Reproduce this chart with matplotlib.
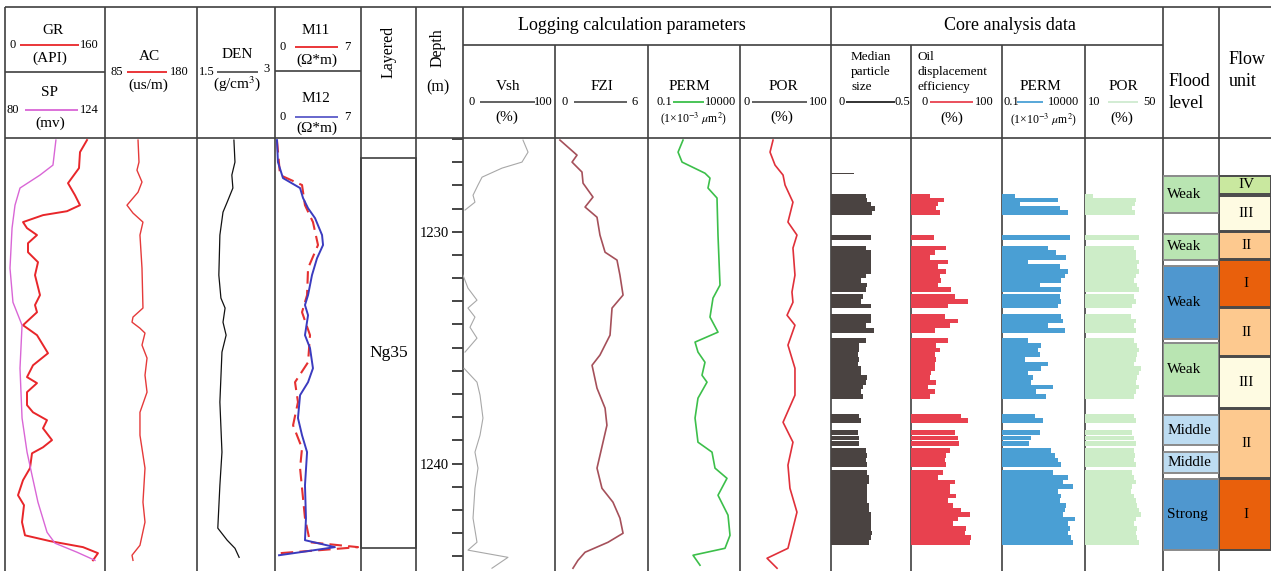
#Well log panel: conventional logs, calculated parameters, core data, flood level and flow units
import numpy as np
import matplotlib.pyplot as plt
from matplotlib.patches import Rectangle
from matplotlib.ticker import FixedLocator, MultipleLocator

plt.rcParams['font.family'] = ['Liberation Serif', 'DejaVu Serif']
plt.rcParams['mathtext.fontset'] = 'stix'

nan = np.nan

#Conventional logs (depth in m)
gr_depth = [1226.04, 1226.56, 1227.25, 1227.90, 1228.42, 1228.85, 1229.11, 1229.28, 1229.58, 1229.84,
            1230.14, 1230.49, 1230.88, 1231.31, 1231.87, 1232.73, 1233.16, 1233.47, 1234.03, 1234.46,
            1235.24, 1235.76, 1236.27, 1236.53, 1236.92, 1237.48, 1237.79, 1238.13, 1238.48, 1238.99,
            1239.30, 1239.56, 1240.20, 1240.72, 1241.37, 1241.80, 1242.53, 1243.10, 1243.35, 1243.61,
            1243.87, 1244.18]
gr = [131.2, 120, 118.4, 100.8, 112, 120, 99.2, 60.8, 28.8, 35.2,
      51.2, 36.8, 36.8, 52.8, 48, 56, 48, 51.2, 28.8, 51.2,
      68.8, 44.8, 35.2, 51.2, 35.2, 35.2, 44.8, 67.2, 60.8, 75.2,
      60.8, 43.2, 40, 28.8, 20.8, 30.4, 27.2, 32, 72, 124.8,
      148.8, 140.8]

sp_depth = [1226.04, 1227.12, 1227.55, 1228.11, 1228.85, 1229.84, 1231.57, 1233.04, 1234.03,
            1235.89, 1238.04, 1239.51, 1240.51, 1241.67, 1242.97, 1243.44, 1243.83, 1244.18]
sp = [102.4, 101.1, 95.4, 86.6, 84.4, 83.1, 82.2, 83.5, 87.5,
      86.6, 87.5, 89.7, 91.9, 94.5, 98.5, 102.0, 111.7, 119.6]

ac_depth = [1226.04, 1226.99, 1227.34, 1227.85, 1228.29, 1228.85, 1229.19, 1229.58, 1230.14,
            1231.57, 1233.29, 1233.68, 1233.90, 1234.16, 1234.37, 1234.89, 1235.45, 1236.19,
            1236.92, 1237.79, 1238.78, 1240.20, 1241.67, 1242.53, 1243.53, 1243.96, 1244.18]
ac = [119.1, 120.1, 118.0, 123.2, 119.1, 107.7, 113.9, 124.2, 121.1,
      123.2, 124.2, 113.9, 112.9, 121.1, 126.3, 123.2, 128.4, 126.3,
      128.4, 121.1, 121.1, 126.3, 124.2, 126.3, 121.1, 112.9, 113.9]

den_depth = [1226.04, 1226.99, 1227.55, 1228.11, 1228.72, 1229.15, 1230.14, 1231.87, 1232.86, 1233.29,
             1233.90, 1234.46, 1235.19, 1237.35, 1239.51, 1240.94, 1242.79, 1243.31, 1243.66, 1244.05]
den = [2.21, 2.23, 2.17, 2.19, 2.08, 2.00, 1.94, 1.92, 1.96, 2.04,
       2.00, 2.06, 1.98, 1.94, 1.98, 1.94, 1.90, 2.08, 2.23, 2.31]

m12_depth = [1226.04, 1226.99, 1227.68, 1228.11, 1228.54, 1228.98, 1229.41, 1230.14, 1230.57, 1231.14,
             1231.87, 1232.73, 1233.16, 1233.60, 1234.46, 1235.02, 1235.89, 1236.49, 1237.05, 1238.04,
             1238.78, 1239.51, 1240.94, 1242.36, 1243.31, 1243.61, 1243.83, 1243.96]
m12 = [0.16, 0.24, 0.65, 2.04, 2.28, 2.69, 3.26, 3.83, 3.91, 3.42,
       3.01, 2.69, 2.44, 2.69, 2.44, 2.85, 3.09, 2.69, 2.04, 1.87,
       2.20, 2.61, 2.44, 2.52, 2.44, 4.88, 2.04, 0.33]

m11_depth = [1226.04, 1227.55, 1227.98, 1228.85, 1229.58, 1230.57, 1231.57, 1232.73, 1233.47, 1234.46,
             1235.63, 1236.49, 1237.35, 1238.35, 1239.34, 1240.20, 1242.36, 1243.40, 1243.61, 1243.74,
             1243.87]
m11 = [0.16, 0.41, 2.20, 2.44, 3.09, 3.50, 2.69, 2.61, 2.20, 2.85,
       2.69, 1.63, 1.87, 1.47, 2.20, 2.04, 2.44, 2.85, 6.76, 3.66,
       0.41]

#Logging calculation parameters
vsh_depth = [1226.04, 1226.56, 1226.99, 1227.25, 1227.64, 1227.98, 1228.42, 1228.72, 1229.06, 1229.50,
             1231.87, 1232.43, 1232.95, 1233.29, 1233.68, 1234.12, 1234.59, 1235.19, 1235.50,
             1235.89, 1236.49, 1237.05, 1238.04, 1238.78, 1239.51, 1240.20, 1241.07, 1242.36, 1243.40,
             1243.74, 1244.05, 1244.52]
vsh = [65.2, 70.7, 64.1, 42.4, 20.7, 16.3, 10.9, 13.0, 2.2, nan,
       0.0, 5.4, 15.2, 5.4, 13.0, 7.6, 15.2, 2.2, nan,
       1.1, 15.2, 18.5, 21.7, 18.5, 13.0, 16.3, 13.0, 10.9, 15.2,
       5.4, 48.9, 31.5]

fzi_depth = [1226.04, 1226.69, 1226.99, 1227.42, 1227.90, 1228.50, 1228.93, 1229.37, 1230.14, 1230.88,
             1231.22, 1231.87, 1232.73, 1233.29, 1234.46, 1235.32, 1235.76, 1236.75, 1237.61, 1238.35,
             1240.20, 1241.07, 1241.67, 1242.36, 1243.01, 1243.40, 1243.83, 1244.18, 1244.52]
fzi = [0.32, 1.42, 1.10, 1.74, 1.81, 2.45, 1.94, 2.71, 2.90, 3.23,
       4.00, 4.19, 4.39, 3.68, 3.55, 2.90, 2.39, 2.71, 3.23, 3.35,
       2.71, 3.03, 3.74, 4.19, 4.39, 3.42, 1.94, 1.48, 1.16]

perm_depth = [1226.04, 1226.56, 1226.99, 1227.47, 1227.68, 1228.11, 1228.54, 1230.14, 1232.30, 1232.86,
              1233.68, 1234.33, 1234.76, 1235.19, 1235.63, 1236.19, 1236.49, 1237.18, 1238.04, 1239.08,
              1239.51, 1240.20, 1240.64, 1241.37, 1242.23, 1243.10, 1243.66, 1243.96, 1244.39]
perm = [8.0, 4.3, 7.1, 125, 234, 182, 562, 637, 818, 341,
        234, 637, 36, 52, 125, 86, 161, 52, 36, 52,
        301, 438, 1960, 637, 2230, 2860, 1530, 28, 67]

por_depth = [1226.04, 1226.56, 1227.12, 1227.55, 1227.98, 1228.72, 1229.58, 1230.14, 1230.70, 1231.87,
             1232.60, 1233.04, 1233.60, 1234.03, 1234.89, 1235.89, 1237.05, 1238.22, 1239.08, 1240.07,
             1241.07, 1242.10, 1243.66, 1244.09, 1244.52]
por = [36.3, 33.0, 38.5, 47.3, 49.5, 58.2, 52.7, 62.6, 58.2, 60.4,
       57.1, 58.2, 51.7, 60.4, 52.7, 60.4, 60.4, 47.3, 58.2, 52.7,
       54.9, 62.6, 52.7, 29.7, 40.7]

#Core analysis data
core_depth = [1228.45, 1228.62, 1228.80, 1228.98, 1229.16,
              1230.25,
              1230.70, 1230.90, 1231.10, 1231.30, 1231.50, 1231.70, 1231.90, 1232.10, 1232.30, 1232.50,
              1232.80, 1233.00, 1233.20,
              1233.65, 1233.85, 1234.05, 1234.25,
              1234.70, 1234.90, 1235.10, 1235.30, 1235.50, 1235.70, 1235.90, 1236.10, 1236.30, 1236.50,
              1236.70, 1236.90, 1237.10,
              1237.97, 1238.15,
              1238.65, 1238.90, 1239.15,
              1239.45, 1239.65, 1239.85, 1240.05,
              1240.40, 1240.60, 1240.80, 1241.00, 1241.20, 1241.40, 1241.60, 1241.80, 1242.00, 1242.20,
              1242.40, 1242.60, 1242.80, 1243.00, 1243.20, 1243.40]
core_median = [0.22, 0.23, 0.25, 0.28, 0.26,
               0.25,
               0.22, 0.25, 0.25, 0.25, 0.25, 0.25, 0.22, 0.19, 0.23, 0.22,
               0.20, 0.19, 0.25,
               0.25, 0.25, 0.22, 0.27,
               0.22, 0.18, 0.18, 0.17, 0.18, 0.17, 0.19, 0.19, 0.23, 0.22, 0.20, 0.19, 0.20,
               0.18, 0.19,
               0.17, 0.18, 0.18,
               0.22, 0.23, 0.22, 0.23,
               0.23, 0.24, 0.24, 0.23, 0.23, 0.23, 0.23, 0.24, 0.24, 0.25, 0.25, 0.25, 0.25, 0.26, 0.25, 0.24]
core_oil = [21, 36, 30, 28, 32,
            25,
            38, 26, 21, 41, 30, 38, 32, 33, 30, 44,
            48, 63, 41,
            37, 52, 43, 26,
            41, 27, 32, 26, 27, 26, 26, 22, 21, 27, 19, 26, 21,
            55, 63,
            48, 52, 53,
            43, 38, 37, 38,
            35, 30, 48, 43, 43, 49, 41, 46, 55, 65, 52, 46, 60, 59, 66, 65]
core_perm = [0.6, 230, 1.2, 320, 950,
             1260,
             59, 178, 724, 3.7, 309, 955, 631, 355, 19.5, 355,
             309, 355, 234,
             355, 468, 59, 631,
             3.7, 22, 15, 19.5, 2.5, 59, 22, 3.7, 7.4, 5.6, 117, 11, 45,
             9.8, 30,
             19.5, 5.6, 4.3,
             89, 155, 234, 355,
             117, 955, 468, 1900, 234, 355, 309, 724, 631, 468, 2500, 955, 1260, 955, 1450, 1900]
core_por = [14, 36, 35.5, 34, 35.5,
            37.5,
            35, 36, 36, 37.5, 36.5, 37.5, 36, 35, 36.5, 37.5,
            35, 36, 34,
            33.5, 36, 35, 36,
            35, 36.5, 37.5, 36.5, 36, 35, 38.5, 37.5, 36.5, 36, 37.5, 36, 35,
            35, 36,
            34, 35, 36,
            35, 35.5, 35, 36,
            34, 35, 36, 34, 33.5, 35, 36, 36.5, 37.5, 38.5, 36, 35, 36.5, 36, 36.5, 37.5]
median_single_depth = [1227.49]
median_single = [0.146]

#Interpretation columns
layer_top = [1226.80]
layer_bot = [1243.64]
layer_name = ['Ng35']

flood_top = [1227.58, 1230.09, 1231.47, 1234.81, 1237.92, 1239.52, 1240.65]
flood_bot = [1229.18, 1231.21, 1234.63, 1237.10, 1239.22, 1240.43, 1243.72]
flood_label = ['Weak', 'Weak', 'Weak', 'Weak', 'Middle', 'Middle', 'Strong']

flow_top = [1227.58, 1228.44, 1230.00, 1231.21, 1233.29, 1235.41, 1237.66, 1240.65]
flow_bot = [1228.35, 1229.96, 1231.17, 1233.25, 1235.37, 1237.62, 1240.61, 1243.72]
flow_label = ['IV', 'III', 'II', 'I', 'II', 'III', 'II', 'I']

#Styles
flood_fill = ['#b9e5b2', '#b9e5b2', '#4f97cf', '#b9e5b2', '#bddcf1', '#bddcf1', '#4f97cf']
flow_fill = {'I': '#e9600c', 'II': '#fdc98f', 'III': '#fefbe2', 'IV': '#c9e89f'}
GRID = '#404040'
BAR_H = 0.2

W, H = 1271, 571
BODY_TOP, BODY_BOT = 138, 571
DEPTH_TOP, DEPTH_BOT = 1225.95, 1244.64

fig = plt.figure(figsize=(W / 100, H / 100), dpi=100)

#Overlay axes in pixel units for the frame and header text
ax0 = fig.add_axes([0, 0, 1, 1])
ax0.set_xlim(0, W)
ax0.set_ylim(H, 0)
ax0.axis('off')


def track(x0, x1, lo, hi, log=False):
    ax = fig.add_axes([x0 / W, 1 - BODY_BOT / H, (x1 - x0) / W, (BODY_BOT - BODY_TOP) / H])
    if log:
        ax.set_xscale('log')
    ax.set_xlim(lo, hi)
    ax.set_ylim(DEPTH_BOT, DEPTH_TOP)
    ax.axis('off')
    return ax


def line(xs, ys, color=GRID, lw=1.2):
    ax0.plot(xs, ys, color=color, lw=lw, solid_capstyle='butt')


def key(x0, x1, y, color, lo, hi, xlo, xhi, fs=9):
    line([x0, x1], [y, y], color=color, lw=1.3)
    ax0.text(xlo, y, lo, ha='center', va='center', fontsize=fs)
    ax0.text(xhi, y, hi, ha='center', va='center', fontsize=fs)


#Frame lines
for x in [5, 105, 197, 275, 361, 416, 463, 831, 1163, 1219]:
    line([x, x], [7, H])
for x in [555, 648, 740, 911, 1002, 1085]:
    line([x, x], [45, H])
line([5, W], [7, 7])
line([5, W], [138, 138])
line([463, 1163], [45, 45])
line([5, 105], [72, 72])
line([275, 361], [71, 71])

#Header text
ax0.text(53, 31, 'GR', ha='center', va='center', fontsize=11)
key(20, 79, 45, '#e8262a', '0', '160', 12.5, 89.5)
ax0.text(50, 58, '(API)', ha='center', va='center', fontsize=11)
ax0.text(50, 93, 'SP', ha='center', va='center', fontsize=11)
key(25, 78, 110, '#d966d6', '80', '124', 12.5, 89.5)
ax0.text(50, 123, '(mv)', ha='center', va='center', fontsize=11)

ax0.text(149, 57, 'AC', ha='center', va='center', fontsize=11)
key(127, 167, 72, '#e8262a', '85', '180', 117, 179)
ax0.text(148, 85, '(us/m)', ha='center', va='center', fontsize=11)

ax0.text(237, 55, 'DEN', ha='center', va='center', fontsize=11)
key(217, 258, 72, '#555555', '1.5', '', 207, 267)
ax0.text(267, 69, '3', ha='center', va='center', fontsize=9)
ax0.text(237, 84, '(g/cm$^3$)', ha='center', va='center', fontsize=11)

ax0.text(316, 31, 'M11', ha='center', va='center', fontsize=11)
key(295, 338, 47, '#e8262a', '0', '7', 283, 347)
ax0.text(317, 60, '(Ω*m)', ha='center', va='center', fontsize=11)
ax0.text(316, 99, 'M12', ha='center', va='center', fontsize=11)
key(295, 338, 117, '#5a5ac8', '0', '7', 283, 347)
ax0.text(317, 128, '(Ω*m)', ha='center', va='center', fontsize=11)

ax0.text(389, 52, 'Layered', ha='center', va='center', rotation=90, fontsize=11.5)
ax0.text(438, 48, 'Depth', ha='center', va='center', rotation=90, fontsize=11.5)
ax0.text(438, 87, '(m)', ha='center', va='center', fontsize=11.5)

ax0.text(632, 25, 'Logging calculation parameters', ha='center', va='center', fontsize=13)
ax0.text(508, 87, 'Vsh', ha='center', va='center', fontsize=11)
key(480, 535, 102, '#555555', '0', '100', 472, 543)
ax0.text(507, 117, '(%)', ha='center', va='center', fontsize=11)
ax0.text(602, 86, 'FZI', ha='center', va='center', fontsize=11)
key(574, 627, 102, '#555555', '0', '6', 565, 635)
ax0.text(689, 87, 'PERM', ha='center', va='center', fontsize=11)
key(673, 704, 102, '#3cbf4a', '0.1', '10000', 664, 721)
ax0.text(693, 119, '(1×10$^{-3}$ $\\mu$m$^2$)', ha='center', va='center', fontsize=8.5)
ax0.text(783, 87, 'POR', ha='center', va='center', fontsize=11)
key(752, 807, 102, '#555555', '0', '100', 747, 818)
ax0.text(782, 117, '(%)', ha='center', va='center', fontsize=11)

ax0.text(1010, 25, 'Core analysis data', ha='center', va='center', fontsize=13)
for i, s in enumerate(['Median', 'particle', 'size']):
    ax0.text(851, 57 + 15 * i, s, ha='left', va='center', fontsize=9.5)
key(846, 895, 102, '#222222', '0', '0.5', 842, 902)
for i, s in enumerate(['Oil', 'displacement', 'efficiency']):
    ax0.text(918, 57 + 15 * i, s, ha='left', va='center', fontsize=9.5)
key(930, 973, 102, '#e8414f', '0', '100', 925, 984)
ax0.text(952, 118, '(%)', ha='center', va='center', fontsize=11)
ax0.text(1040, 87, 'PERM', ha='center', va='center', fontsize=11)
key(1017, 1043, 102, '#4aa0d5', '0.1', '10000', 1011, 1064)
ax0.text(1043, 120, '(1×10$^{-3}$ $\\mu$m$^2$)', ha='center', va='center', fontsize=8.5)
ax0.text(1123, 87, 'POR', ha='center', va='center', fontsize=11)
key(1108, 1138, 102, '#cfead0', '10', '50', 1094, 1150)
ax0.text(1122, 118, '(%)', ha='center', va='center', fontsize=11)
ax0.text(1169, 82, 'Flood', ha='left', va='center', fontsize=13)
ax0.text(1169, 104, 'level', ha='left', va='center', fontsize=13)
ax0.text(1229, 60, 'Flow', ha='left', va='center', fontsize=13)
ax0.text(1229, 81, 'unit', ha='left', va='center', fontsize=13)

#Conventional log tracks
ax = track(5, 105, 0, 160)
ax.plot(gr, gr_depth, color='#e8262a', lw=1.4, solid_joinstyle='round')
ax = track(5, 105, 80, 124)
ax.plot(sp, sp_depth, color='#d966d6', lw=1.0, solid_joinstyle='round')
ax = track(105, 197, 85, 180)
ax.plot(ac, ac_depth, color='#e53a3a', lw=1.0, solid_joinstyle='round')
ax = track(197, 275, 1.5, 3)
ax.plot(den, den_depth, color='#111111', lw=0.9, solid_joinstyle='round')
ax = track(275, 361, 0, 7)
ax.plot(m11, m11_depth, color='#e53030', lw=1.5, dashes=(6, 3))
ax.plot(m12, m12_depth, color='#3b3bbf', lw=1.4, solid_joinstyle='round')

#Layered column
ax = track(361, 416, 0, 1)
for top, bot, name in zip(layer_top, layer_bot, layer_name):
    ax.add_patch(Rectangle((0, top), 1, bot - top, fill=False, edgecolor=GRID, lw=1.2, clip_on=False))
    ax.text(0.5, (top + bot) / 2, name, ha='center', va='center', fontsize=12.5)

#Depth scale
axd = fig.add_axes([452 / W, 1 - BODY_BOT / H, 11 / W, (BODY_BOT - BODY_TOP) / H])
axd.set_ylim(DEPTH_BOT, DEPTH_TOP)
axd.set_xticks([])
for s in axd.spines.values():
    s.set_visible(False)
axd.patch.set_visible(False)
axd.yaxis.set_major_locator(FixedLocator([1230, 1240]))
axd.yaxis.set_minor_locator(MultipleLocator(1))
axd.tick_params(axis='y', which='both', direction='in', length=8, width=1.4, color='#444444',
                labelsize=10.5, pad=2)

#Logging calculation parameter tracks
ax = track(463, 555, 0, 100)
ax.plot(vsh, vsh_depth, color='#a8a8a8', lw=0.8)
ax = track(555, 648, 0, 6)
ax.plot(fzi, fzi_depth, color='#a5505a', lw=1.2, solid_joinstyle='round')
ax = track(648, 740, 0.1, 10000, log=True)
ax.plot(perm, perm_depth, color='#3cbf4a', lw=1.2, solid_joinstyle='round')
ax = track(740, 831, 0, 100)
ax.plot(por, por_depth, color='#e0303a', lw=1.2, solid_joinstyle='round')

#Core analysis tracks
ax = track(831, 910, 0, 0.5)
ax.barh(core_depth, core_median, height=BAR_H, color='#4a4341', lw=0)
ax.barh(median_single_depth, median_single, height=0.05, color='#4a4341', lw=0)
ax = track(911, 1002, 0, 100)
ax.barh(core_depth, core_oil, height=BAR_H, color='#e8414f', lw=0)
ax = track(1002, 1085, 0.1, 10000, log=True)
ax.barh(core_depth, np.array(core_perm) - 0.1, left=0.1, height=BAR_H, color='#4a9fd4', lw=0)
ax = track(1085, 1163, 10, 50)
ax.barh(core_depth, np.array(core_por) - 10, left=10, height=BAR_H, color='#cdedc8', lw=0)

#Flood level
ax = track(1163, 1219, 0, 1)
for top, bot, lab, c in zip(flood_top, flood_bot, flood_label, flood_fill):
    ax.add_patch(Rectangle((0, top), 1, bot - top, facecolor=c, edgecolor='#8a8a8a', lw=1.4))
    ax.text(0.08, (top + bot) / 2, lab, ha='left', va='center', fontsize=11)

#Flow unit
ax = track(1219, 1271, 0, 1)
for top, bot, lab in zip(flow_top, flow_bot, flow_label):
    ax.add_patch(Rectangle((0, top), 1, bot - top, facecolor=flow_fill[lab], edgecolor='#4a4a4a', lw=1.4))
    ax.text(0.52, (top + bot) / 2, lab, ha='center', va='center', fontsize=11)

plt.savefig('out.png', dpi=100)
